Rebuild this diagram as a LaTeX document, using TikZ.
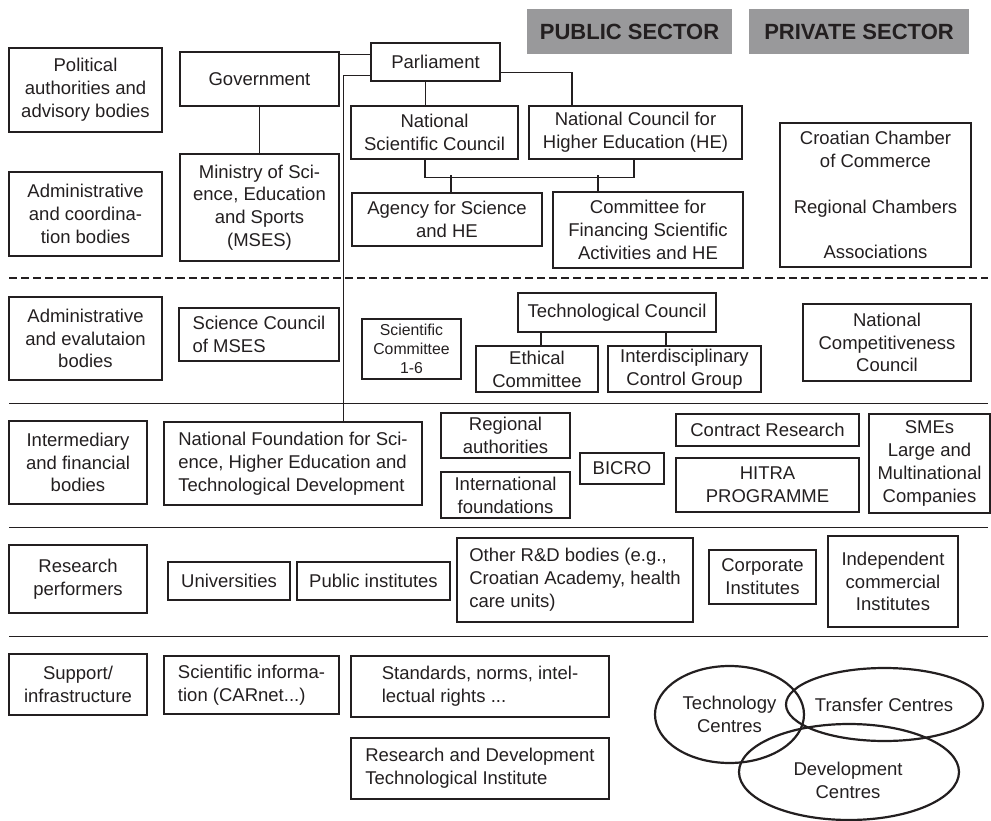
\documentclass[tikz,border=0pt]{standalone}
\usepackage{fontspec}
\setmainfont{Liberation Sans}
\usetikzlibrary{shapes.geometric,calc}
\definecolor{ink}{RGB}{35,31,32}
\definecolor{hdr}{RGB}{153,153,155}
\tikzset{
 box/.style={draw=ink, line width=2.4pt, text=ink, align=center, inner sep=0pt, font=\fontsize{18.5}{22.8}\selectfont},
 lbox/.style={box, align=left},
 conn/.style={draw=ink, line width=1.3pt},
 sep/.style={draw=ink, line width=1pt},
 bigsep/.style={draw=ink, line width=2.5pt, dash pattern=on 8pt off 4pt},
 hdrbox/.style={fill=hdr, text=ink, inner sep=0pt, font=\fontsize{22}{26}\selectfont\bfseries},
 oval/.style={ellipse, draw=ink, line width=2.2pt, text=ink, align=center, inner sep=0pt, font=\fontsize{18.5}{22.8}\selectfont},
}
\newcommand\bx[7][]{\node[box,#1,minimum width={(#5-#3)*1pt},minimum height={(#6-#4)*1pt}] (#2) at ({(#3+#5)/2},{(#4+#6)/2}) {#7};}
\begin{document}
\begin{tikzpicture}[x=1pt,y=-1pt]
\useasboundingbox (0,0) rectangle (991,821);
% headers
\node[hdrbox,minimum width=205pt,minimum height=45pt] (pub) at (629.5,31.5) {PUBLIC SECTOR};
\node[hdrbox,minimum width=220pt,minimum height=45pt] (priv) at (859,31.5) {PRIVATE SECTOR};
% separators
\draw[bigsep] (9,278) -- (988,278);
\draw[sep] (9,403) -- (988,403);
\draw[sep] (9,527) -- (988,527);
\draw[sep] (9,636) -- (988,636);
% left column
\bx{pol}{9}{48}{162}{132}{Political\\authorities and\\advisory bodies}
\bx{adc}{9}{172}{162}{256}{Administrative\\and coordina-\\tion bodies}
\bx{ade}{9}{297}{162}{380}{Administrative\\and evalutaion\\bodies}
\bx{imf}{9}{421}{147}{504}{Intermediary\\and financial\\bodies}
\bx{rp}{9}{545}{147}{613}{Research\\performers}
\bx{sup}{9}{654}{147}{715}{Support/\\infrastructure}
% top rows
\bx{gov}{180}{52}{339}{106}{Government}
\bx{min}{180}{154}{339}{261}{Ministry of Sci-\\ence, Education\\and Sports\\(MSES)}
\bx{parl}{371}{43}{500}{81}{Parliament}
\bx{nsc}{351}{106}{518}{159}{National\\Scientific Council}
\bx{nche}{529}{106}{742}{159}{National Council for\\Higher Education (HE)}
\bx{agency}{352}{193}{542}{246}{Agency for Science\\and HE}
\bx{cff}{553}{192}{743}{268}{Committee for\\Financing Scientific\\Activities and HE}
\bx{ccc}{780}{123}{971}{267}{Croatian Chamber\\of Commerce\\\mbox{}\\Regional Chambers\\\mbox{}\\Associations}
% third row
\bx[lbox]{scm}{179}{308}{339}{361}{Science Council\\of MSES}
\bx[font=\fontsize{15.8}{19}\selectfont]{sc}{362}{319}{461}{379}{Scientific\\Committee\\1-6}
\bx{tc}{518}{293}{716}{332}{Technological Council}
\bx{eth}{476}{346}{598}{392}{Ethical\\Committee}
\bx{idc}{608}{346}{761}{392}{Interdisciplinary\\Control Group}
\bx{ncc}{803}{304}{971}{381}{National\\Competitiveness\\Council}
% fourth row
\bx[lbox]{nf}{164}{422}{422}{505}{National Foundation for Sci-\\ence, Higher Education and\\Technological Development}
\bx{reg}{441}{413}{570}{458}{Regional\\authorities}
\bx{intf}{441}{472}{570}{518}{International\\foundations}
\bx{bicro}{580}{453}{664}{484}{BICRO}
\bx{cr}{676}{414}{859}{446}{Contract Research}
\bx{hitra}{676}{458}{859}{512}{HITRA\\PROGRAMME}
\bx{sme}{869}{414}{990}{513}{SMEs\\Large and\\Multinational\\Companies}
% fifth row
\bx{uni}{168}{562}{290}{600}{Universities}
\bx{pi}{297}{562}{450}{600}{Public institutes}
\bx[lbox]{ord}{457}{538}{693}{622}{Other R\&D bodies (e.g.,\\Croatian Academy, health\\care units)}
\bx{ci}{709}{550}{816}{604}{Corporate\\Institutes}
\bx{ici}{828}{536}{958}{627}{Independent\\commercial\\Institutes}
% sixth row
\bx[lbox]{si}{164}{656}{339}{714}{Scientific informa-\\tion (CARnet...)}
\bx[lbox]{std}{351}{656}{609}{717}{Standards, norms, intel-\\lectual rights ...}
\bx[lbox]{rdti}{351}{738}{609}{799}{Research and Development\\Technological Institute}
% ellipses
\node[oval,minimum width=149pt,minimum height=97pt] (tcen) at (729.5,714.5) {Technology\\Centres};
\node[oval,minimum width=197pt,minimum height=73pt] (trc) at (884.5,704.5) {};
\node[text=ink,font=\fontsize{18.5}{22.8}\selectfont] (trct) at (884,705) {Transfer Centres};
\node[oval,minimum width=220pt,minimum height=96pt] (dc) at (849,772) {};
\node[text=ink,align=center,font=\fontsize{18.5}{22.8}\selectfont] (dct) at (848,780) {Development\\Centres};
% connectors
\draw[conn] ([yshift=-4pt]gov.north east) -- ([yshift=-4pt]gov.north east -| parl.west);
\draw[conn] (gov.south) -- (min.north);
\draw[conn] ([yshift=7pt]parl.south west) -| ([xshift=181pt]nf.north west);
\draw[conn] ([xshift=-10pt]parl.south) -- ([xshift=-10pt]parl.south |- nsc.north);
\draw[conn] ([yshift=10pt]parl.south east) -| ([xshift=-63.5pt]nche.north);
\draw[conn] ([xshift=-9.5pt]nsc.south) -- ++(0,17) -| ([xshift=-1.5pt]nche.south);
\draw[conn] ([xshift=4pt]agency.north) -- ++(0,-17);
\draw[conn] ([xshift=-50pt]cff.north) -- ++(0,-16);
\draw[conn] ([xshift=4pt]eth.north) -- ([xshift=4pt]eth.north |- tc.south);
\draw[conn] ([xshift=-18.5pt]idc.north) -- ([xshift=-18.5pt]idc.north |- tc.south);
\end{tikzpicture}
\end{document}
